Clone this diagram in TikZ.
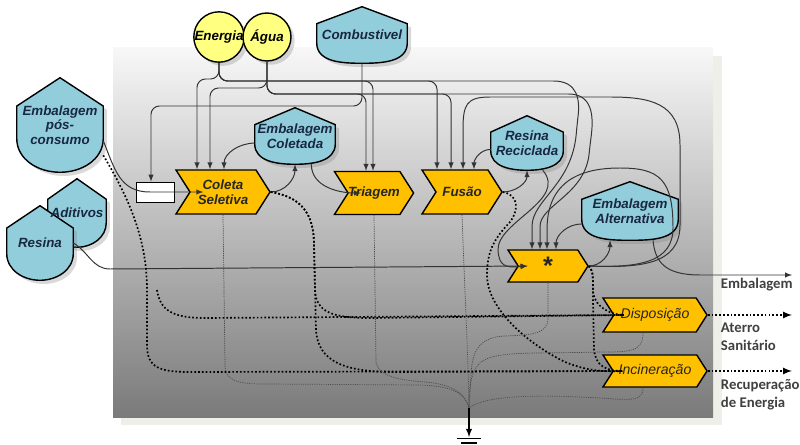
\documentclass[tikz,border=0pt]{standalone}
\usepackage{fontspec}
\setmainfont{Liberation Sans}
\newfontfamily\calibri{Carlito}
\usetikzlibrary{calc,shapes.symbols,shadows}

\definecolor{azul}{RGB}{146,205,220}
\definecolor{laranja}{RGB}{255,192,0}
\definecolor{amarelo}{RGB}{255,255,128}
\definecolor{textoazul}{RGB}{25,40,65}
\definecolor{sombra}{RGB}{239,239,233}

\pgfdeclarelayer{fundo}
\pgfdeclarelayer{formas}
\pgfsetlayers{fundo,formas,main}

\tikzset{
  contorno/.style={draw=black, line width=1pt},
  tanque/.style 2 args={rectangle, inner sep=0pt, minimum width=#1*0.025cm, minimum height=#2*0.025cm, align=center, text=textoazul, font=\bfseries\itshape\fontsize{9.5}{10.5}\selectfont},
  fonte/.style={circle, contorno, fill=amarelo, minimum size=#1*0.025cm, inner sep=0pt, font=\bfseries\itshape\fontsize{9.5}{10.5}\selectfont, drop shadow={opacity=.3}},
  processo/.style 2 args={signal, signal to=east, signal from=west, signal pointer angle=115, contorno, fill=laranja, minimum width=#1*0.025cm, minimum height=#2*0.025cm, inner sep=0pt, align=center, text=black!85, font=\bfseries\itshape\fontsize{9.5}{10.5}\selectfont},
  fluxo/.style={draw=black!80, line width=.7pt, -latex},
  residuo/.style={line width=1.2pt, dash pattern=on 1.2pt off 1.5pt},
  perda/.style={draw=black!70, line width=.5pt, dash pattern=on .8pt off .8pt},
  rotulo/.style={font=\calibri\bfseries\fontsize{10.5}{12.5}\selectfont, text=black!75, align=left, anchor=west}
}

\newcommand{\tanque}[1]{%
  \begin{pgfonlayer}{formas}
  \draw[contorno, fill=azul, drop shadow={opacity=.3}]
    (#1.north) -- ($(#1.north east)!.3!(#1.south east)$)
    -- ($(#1.north east)!.64!(#1.south east)$)
    to[out=-90, in=0] (#1.south)
    to[out=180, in=-90] ($(#1.north west)!.64!(#1.south west)$)
    -- ($(#1.north west)!.3!(#1.south west)$) -- cycle;
  \end{pgfonlayer}}

\begin{document}
\begin{tikzpicture}[x=0.025cm, y=-0.025cm]
\useasboundingbox (0,0) rectangle (800,445);
\begin{pgfonlayer}{fundo}
\fill[sombra] (121,56) rectangle (722,425);
\fill[top color=black!3, bottom color=black!52] (113,48) rectangle (713,417);
\end{pgfonlayer}

\node[fonte=50] (energia) at (219,37) {Energia};
\node[fonte=48] (agua) at (267,37) {Água};
\node[tanque={90}{56}] (comb) at (362,35) {Combustivel};
\node[tanque={86}{94}] (epc) at (60,125) {Embalagem\\pós-\\consumo};
\node[tanque={58}{68}] (aditivos) at (77,213) {Aditivos};
\node[tanque={66}{74}] (resina) at (40,243) {Resina};
\node[tanque={80}{56}] (ecol) at (295,136) {Embalagem\\Coletada};
\node[tanque={72}{54}] (rrec) at (527,143) {Resina\\Reciclada};
\node[tanque={96}{58}] (ealt) at (630,211) {Embalagem\\Alternativa};
\tanque{comb} \tanque{epc} \tanque{aditivos} \tanque{resina}
\tanque{ecol} \tanque{rrec} \tanque{ealt}

\node[processo={94}{44}] (coleta) at (223,192) {Coleta\\Seletiva};
\node[processo={78}{43}] (triagem) at (374,193) {Triagem};
\node[processo={80}{44}] (fusao) at (462,192) {Fusão};
\node[processo={80}{32}, font=\bfseries\fontsize{18}{18}\selectfont] (ast) at (548,266) {*};
\node[processo={104}{34}, font=\itshape\fontsize{10}{12}\selectfont] (dispo) at (655,315) {Disposição};
\node[processo={104}{32}, font=\itshape\fontsize{10}{12}\selectfont] (incin) at (655,371) {Incineração};
\node[draw, fill=white, line width=.6pt, minimum width=38*0.025cm, minimum height=20*0.025cm, inner sep=0pt] (chave) at (155,192) {};

\coordinate (inicio) at (157,290);
\coordinate (terra) at (469,408);
\coordinate (chao) at (469,437);
\coordinate (embal) at (792,275);
\coordinate (aterro) at (792,315);
\coordinate (recup) at (792,371);

\draw[fluxo, rounded corners=6pt] (energia.south) |- (197,79) -- (197,0 |- coleta.north);
\draw[fluxo, rounded corners=6pt] (agua.south) |- (210,88) -- (210,0 |- coleta.north);
\draw[fluxo, rounded corners=6pt] (energia.south) |- (373,81) -- (373,0 |- triagem.north);
\draw[fluxo, rounded corners=6pt] (energia.south) |- (437,81) -- (437,0 |- fusao.north);
\draw[fluxo, rounded corners=6pt] (energia.south) |- (545,81) .. controls (578,81) and (580,100) .. (577,125) .. controls (572,185) and (532,200) .. (532,235) -- (532,0 |- ast.north);
\draw[fluxo, rounded corners=6pt] (agua.south) |- (366,94) -- (366,0 |- triagem.north);
\draw[fluxo, rounded corners=6pt] (agua.south) |- (451,94) -- (451,0 |- fusao.north);
\draw[fluxo, rounded corners=6pt] (agua.south) |- (560,94) .. controls (592,94) and (594,115) .. (590,145) .. controls (585,195) and (540,205) .. (540,235) -- (540,0 |- ast.north);
\draw[fluxo, rounded corners=6pt] (comb.south) |- (151,106) -- (151,0 |- chave.north);
\draw[fluxo] (epc.-20) .. controls (115,170) and (120,192) .. (150,192) -- ([xshift=10pt]coleta.west);
\draw[fluxo] (ecol.190) to[out=180, in=90] (224,0 |- coleta.north);
\draw[fluxo] (coleta.east) to[out=0, in=-90] (ecol.south);
\draw[fluxo] (ecol.-60) to[out=-90, in=180] ([xshift=9.7pt]triagem.west);
\draw[fluxo] (fusao.east) to[out=0, in=-90] (rrec.south);
\draw[fluxo] (rrec.190) to[out=180, in=90] (474,0 |- fusao.north);
\draw[fluxo] (rrec.-60) .. controls (568,200) and (497,222) .. (498,250) .. controls (499,266) and (505,268) .. ([xshift=7.2pt]ast.west);
\draw[fluxo] (resina.east) to[out=-30, in=180] (110,269) -- ([xshift=7.2pt]ast.west);
\draw[fluxo] (ast.east) to[out=0, in=-90] (610,0 |- ealt.south);
\draw[fluxo] (ealt.195) to[out=180, in=90] (556,0 |- ast.north);
\draw[fluxo] (ast.east) .. controls (640,268) and (680,265) .. (680,225) -- (680,145) .. controls (680,103) and (650,97) .. (610,97) -- (490,97) .. controls (466,97) and (463,105) .. (463,130) -- (463,0 |- fusao.north);
\draw[fluxo] (ast.east) .. controls (640,268) and (673,262) .. (673,228) .. controls (673,180) and (660,168) .. (620,168) .. controls (575,168) and (547,185) .. (547,230) -- (547,0 |- ast.north);
\draw[fluxo] (653,0 |- ealt.south) .. controls (655,262) and (665,275) .. (700,275) -- (embal);

\draw[residuo] (epc.-35) .. controls (130,200) and (147,240) .. (147,290) -- (147,345) .. controls (147,368) and (160,372) .. (190,372) -- ([xshift=7.2pt]incin.west);
\draw[residuo] (inicio) .. controls (160,310) and (172,318) .. (205,318) -- ([xshift=7.7pt]dispo.west);
\draw[residuo] (coleta.east) .. controls (300,197) and (314,212) .. (314,245) -- (315,290) .. controls (316,312) and (332,318) .. (370,318) -- ([xshift=7.7pt]dispo.west);
\draw[residuo] (coleta.east) .. controls (300,197) and (314,212) .. (314,245) -- (316,330) .. controls (318,362) and (345,372) .. (395,372) -- ([xshift=7.2pt]incin.west);
\draw[residuo] (fusao.east) .. controls (520,195) and (518,212) .. (510,222) .. controls (495,238) and (487,250) .. (487,275) .. controls (487,310) and (530,345) .. (565,362) .. controls (585,370) and (600,372) .. ([xshift=7.2pt]incin.west);
\draw[residuo] (ast.east) .. controls (593,272) .. (593,292) .. controls (595,308) and (612,315) .. ([xshift=7.7pt]dispo.west);
\draw[residuo] (ast.east) .. controls (593,272) .. (593,300) -- (594,350) .. controls (596,366) and (606,371) .. ([xshift=7.2pt]incin.west);
\draw[residuo, -latex] (dispo.east) -- (aterro);
\draw[residuo, -latex] (incin.east) -- (recup);

\draw[perda] (coleta.south) -- (225,365) .. controls (225,381) and (238,384) .. (265,384) -- (420,385) .. controls (450,386) and (465,392) .. (terra);
\draw[perda] (triagem.south) -- (376,362) .. controls (378,375) and (395,380) .. (425,382) .. controls (450,384) and (465,392) .. (terra);
\draw[perda] (fusao.south) .. controls (465,300) and (468,350) .. (terra);
\draw[perda] (ast.south) -- (548,318) .. controls (548,333) and (535,335) .. (505,336) .. controls (480,337) and (472,350) .. (471,375) -- (terra);
\draw[perda] (643,0 |- dispo.south) .. controls (643,352) and (630,352) .. (600,352) .. controls (530,354) and (490,350) .. (478,365) .. controls (470,375) and (469,390) .. (terra);
\draw[perda] (643,0 |- incin.south) .. controls (643,402) and (630,400) .. (600,398) .. controls (530,394) and (485,396) .. (terra);
\draw[-latex, line width=1pt] (terra) -- (chao);
\draw[line width=1.2pt] (457,438.5) -- (481,438.5) (461,443) -- (477,443);

\node[rotulo] (lembal) at (716,285) {Embalagem};
\node[rotulo] (laterro) at (716,337) {Aterro\\Sanitário};
\node[rotulo] (lrecup) at (716,395) {Recuperação\\de Energia};
\end{tikzpicture}
\end{document}
